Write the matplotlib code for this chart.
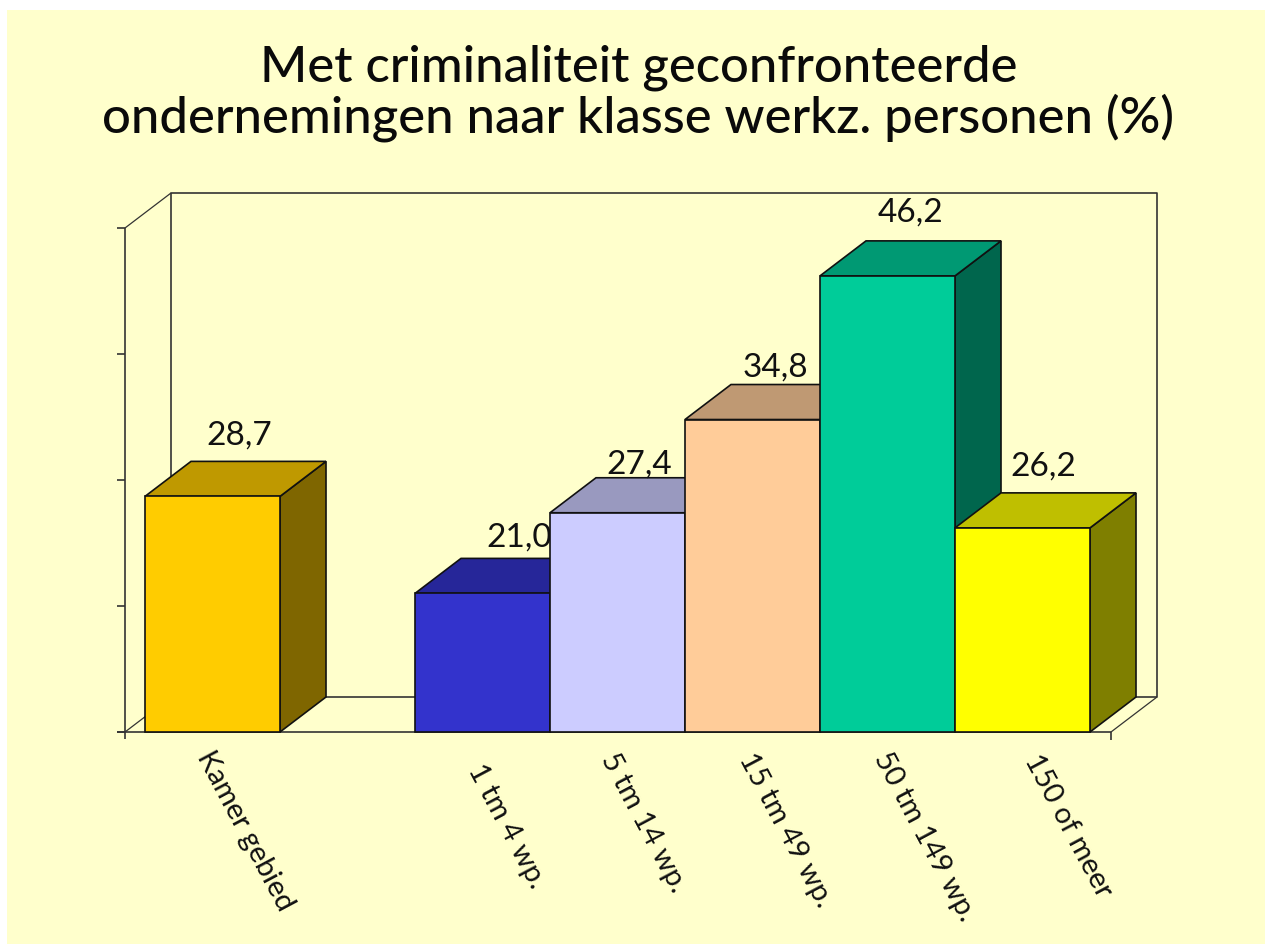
import matplotlib
matplotlib.use("Agg")
import matplotlib.pyplot as plt
from matplotlib.patches import Polygon, Rectangle

title = "Met criminaliteit geconfronteerde\nondernemingen naar klasse werkz. personen (%)"
categories = ["Kamer gebied", "", "1 tm 4 wp.", "5 tm 14 wp.", "15 tm 49 wp.", "50 tm 149 wp.", "150 of meer"]
values = [28.7, None, 21.0, 27.4, 34.8, 46.2, 26.2]
value_labels = ["28,7", "", "21,0", "27,4", "34,8", "46,2", "26,2"]
front_colors = ["#FFCC00", None, "#3333CC", "#CCCCFF", "#FFCC99", "#00CC99", "#FFFF00"]
top_colors = ["#BF9900", None, "#262699", "#9999BF", "#BF9973", "#009973", "#BFBF00"]
side_colors = ["#7F6600", None, "#1A1A66", "#666680", "#7F664D", "#00664D", "#7F7F00"]
y_ticks = [10, 20, 30, 40, 50]

W, H = 1265, 945
plt.rcParams["font.family"] = ["Lato", "DejaVu Sans"]
fig = plt.figure(figsize=(W / 100, H / 100), dpi=100, facecolor="white")
fig.patches.append(Rectangle((7 / W, 0), (W - 7) / W, (H - 11) / H, transform=fig.transFigure,
                             facecolor="#FFFFCC", edgecolor="none", zorder=-10))

ax = fig.add_axes([125 / W, (H - 733) / H, (1111 - 125) / W, (733 - 229) / H])
ax.patch.set_alpha(0)
px_x = 135.0
ax.set_xlim(-(212.5 - 125) / px_x, (1111 - 212.5) / px_x)
ax.set_ylim(10, 50)
ax.axis("off")
px_y = 504 / 40
ddx, ddy = 46 / px_x, 35 / px_y
x0, x1 = ax.get_xlim()
y0, y1 = ax.get_ylim()
frame = dict(color="#333333", lw=1.2, clip_on=False, solid_capstyle="butt")
thin = {**frame, "lw": 0.9}

# back wall and floor
ax.plot([x0 + ddx, x0 + ddx, x1 + ddx, x1 + ddx, x0 + ddx],
        [y0 + ddy, y1 + ddy, y1 + ddy, y0 + ddy, y0 + ddy], zorder=1, **frame)
ax.plot([x0, x0 + ddx], [y1, y1 + ddy], zorder=1, **thin)
ax.plot([x0, x0 + ddx], [y0, y0 + ddy], zorder=1, **thin)
ax.plot([x1, x1 + ddx], [y0, y0 + ddy], zorder=1, **thin)
# value axis and ticks
tick_x = 8 / px_x
ax.plot([x0, x0], [y0 - 7 / px_y, y1], zorder=1, **frame)
for t in y_ticks:
    ax.plot([x0 - tick_x, x0], [t, t], zorder=1, **frame)
ax.plot([x0 - tick_x, x1], [y0, y0], zorder=1, **frame)
ax.plot([x1, x1], [y0, y0 - 8 / px_y], zorder=1, **frame)

# hand-placed label offsets in pixels, as in the reference
value_offsets = [(27, 62), (0, 0), (37, 57), (22, 49), (23, 53), (23, 64), (21, 62)]
cat_offsets = [(-9, -20), (0, 0), (-8, -33), (-10, -22), (-7, -22), (-7, -21), (9, -23)]

edge = dict(edgecolor="#111111", linewidth=1.2, joinstyle="miter", clip_on=False)
z = 2
for i, v in enumerate(values):
    if v is None:
        continue
    l, r = i - 0.5, i + 0.5
    ax.add_patch(Polygon([(r, y0), (r + ddx, y0 + ddy), (r + ddx, v + ddy), (r, v)],
                         facecolor=side_colors[i], zorder=z, **edge))
    ax.add_patch(Polygon([(l, v), (l + ddx, v + ddy), (r + ddx, v + ddy), (r, v)],
                         facecolor=top_colors[i], zorder=z, **edge))
    ax.add_patch(Rectangle((l, y0), 1, v - y0, facecolor=front_colors[i], zorder=z, **edge))
    ax.annotate(value_labels[i], (i, v), xytext=value_offsets[i], textcoords="offset pixels",
                ha="center", va="center", fontsize=24, color="#111111", zorder=z, clip_on=False)
    ax.annotate(categories[i], (i, y0), xytext=cat_offsets[i], textcoords="offset pixels",
                ha="left", va="center", rotation=-62, rotation_mode="anchor",
                fontsize=21, color="#111111", annotation_clip=False)
    z += 1

fig.text(638.5 / W, (H - 93) / H, title, ha="center", va="center", fontsize=36.5,
         fontweight="medium", color="#0a0a0a", linespacing=1.06)
fig.savefig("out.png", dpi=100, facecolor="white")
